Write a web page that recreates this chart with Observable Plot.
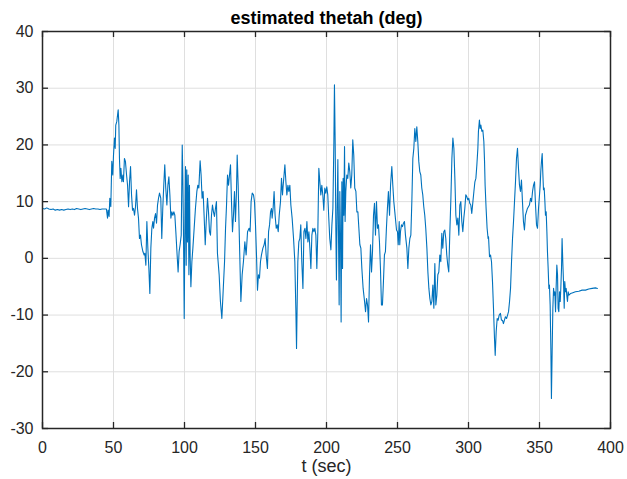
<!DOCTYPE html>
<html>
<head>
<meta charset="utf-8">
<script src="https://cdn.jsdelivr.net/npm/d3@7"></script>
<script src="https://cdn.jsdelivr.net/npm/@observablehq/plot@0.6"></script>
<style>
  html, body { margin: 0; padding: 0; background: #ffffff; }
</style>
</head>
<body>
<div id="chart"></div>
<script>
const chartTitle = "estimated thetah (deg)";
const xLabel = "t (sec)";
const xTicks = [0, 50, 100, 150, 200, 250, 300, 350, 400];
const yTicks = [-30, -20, -10, 0, 10, 20, 30, 40];

const time = [
  0, 1.5, 3, 4.5, 6, 7.5, 9, 10.5, 12, 13.5, 15, 16.5, 18, 19.5, 21, 22.5, 24, 25.5, 27, 28.5, 30, 31.5, 33, 34.5, 36, 37.5, 39, 40.5, 42, 43.5, 45,
  45.8, 46.2, 46.9, 47.4, 48.1, 48.8, 49.5, 50.0, 50.7, 51.2, 51.6, 52.3, 53.3, 53.8, 54.2, 54.7, 55.2, 55.9, 56.6, 57.0, 57.7, 58.4, 59.2, 59.9, 60.6, 61.3, 62.0, 62.7, 63.4, 64.1, 64.8, 65.5, 66.2, 66.9, 67.6, 68.3, 69.0, 69.7, 70.7, 71.6, 72.1, 72.8, 73.5, 74.2, 74.9, 75.6, 76.3, 77.0, 77.7, 78.2, 78.9, 79.6, 80.3, 81.0, 81.7, 82.4, 83.3, 84.0, 84.7, 85.4, 86.1, 86.8, 87.6, 88.3, 89.0, 89.7, 90.4, 91.1, 91.8,
  92.5, 93.2, 93.9, 94.8, 95.5, 96.2, 96.9, 97.7, 98.4, 98.8, 99.3, 99.8, 100.2, 100.7, 101.2, 101.6, 102.1, 102.6, 103.1, 103.5, 104.0, 104.5, 105.2, 105.9, 106.8, 107.7, 108.7, 109.4, 110.1, 111.0, 111.7, 112.4, 113.1, 113.8, 114.6, 115.3, 116.2, 116.9, 117.6, 118.3, 119.0, 119.7, 120.4, 121.1, 121.8, 122.5, 123.2, 124.4, 125.3, 126.3, 127.2, 128.2, 128.9, 129.6, 130.3, 131.0, 131.7, 132.4, 133.1, 133.8, 134.5, 135.2, 135.9, 136.6, 137.1, 137.8, 138.7, 139.7, 140.6, 141.5, 142.5, 143.4, 144.4,
  145.5, 146.2, 146.9, 147.7, 148.6, 149.3, 150.0, 150.7, 151.4, 152.1, 152.8, 153.5, 154.2, 155.2, 156.1, 156.8, 157.5, 158.4, 159.2, 159.9, 160.6, 161.3, 161.7, 162.4, 163.1, 163.8, 164.6, 165.3, 166.0, 166.7, 167.6, 168.3, 169.0, 169.7, 170.7, 171.4, 172.1, 172.8, 173.5, 174.2, 174.9, 175.8, 176.8, 177.7, 178.4, 178.9, 179.3, 179.8, 180.5, 181.2, 181.9, 182.6, 183.4, 184.1, 184.8, 185.5, 186.2, 186.9, 187.6, 188.3, 189.0, 189.7, 190.4, 191.1, 191.8, 192.5, 193.2, 193.9, 194.6,
  196.0, 196.7, 197.4, 198.1, 198.8, 199.5, 200.2, 200.9, 201.6, 202.3, 203.1, 203.8, 204.5, 205.2, 205.6, 206.1, 206.6, 207.0, 207.5, 208.0, 208.4, 208.9, 209.4, 209.9, 210.3, 210.8, 211.3, 211.7, 212.2, 212.7, 213.1, 213.6, 214.3, 215.0, 215.7, 216.4, 217.1, 217.8, 218.5, 219.2, 219.9, 220.7, 221.4, 222.1, 222.8, 223.5, 224.2, 224.9, 225.8, 226.8, 227.5, 228.2, 228.9, 229.6, 230.3, 231.0, 231.7, 232.4, 233.1, 233.8, 234.5, 235.2, 235.9, 236.6, 237.3, 238.0, 238.7, 239.4, 240.1, 240.8, 241.5, 242.2, 242.9, 243.6, 244.4, 245.1, 246.0, 246.7, 247.4, 248.1,
  249.3, 250.0, 250.5, 251.2, 251.6, 252.1, 252.8, 253.5, 254.2, 254.9, 255.6, 256.6, 257.3, 258.0, 258.7, 259.4, 260.1, 260.8, 261.5, 262.2, 262.9, 263.6, 264.3, 265.0, 265.7, 266.4, 267.1, 267.8, 268.5, 269.2, 269.9, 270.7, 271.4, 272.1, 272.8, 273.5, 274.2, 274.9, 275.6, 276.3, 277.0, 277.7, 278.4, 279.1, 279.8, 280.5, 281.2, 281.9, 282.6, 283.3, 284.0, 284.7, 285.4, 286.1, 286.8, 287.6, 288.3, 289.0, 289.7, 290.4, 291.1, 291.8, 292.5, 293.2, 293.9, 294.6, 295.3, 296.0, 296.7, 297.4,
  298.1, 298.8, 299.5, 300.2, 300.9, 301.6, 302.3, 303.1, 303.8, 304.5, 305.2, 305.9, 306.6, 307.0, 307.7, 308.2, 308.7, 309.4, 310.1, 310.8, 311.3, 311.7, 312.4, 313.1, 313.8, 314.1, 314.8, 315.5, 316.2, 316.9, 317.6, 318.3, 318.8, 319.5, 320.2, 320.9, 321.6, 322.5, 323.2, 323.9, 324.6, 325.3, 326.0, 326.8, 327.5, 328.2, 328.9, 329.6, 330.3, 331.0, 331.7, 332.4, 333.1, 333.8, 334.5, 335.2, 335.9, 336.6, 337.3, 338.0, 338.7, 339.4, 340.1, 340.8, 341.5, 342.2, 342.9, 343.7, 344.4, 345.1, 345.8, 346.5, 347.2, 347.9, 348.6, 349.3,
  350.5, 350.9, 351.4, 351.9, 352.3, 352.8, 353.3, 353.8, 354.2, 354.7, 355.2, 355.6, 356.1, 356.6, 357.0, 357.5, 358.0, 358.4, 358.9, 359.4, 359.9, 360.3, 360.8, 361.3, 361.7, 362.2, 362.7, 363.1, 363.6, 364.1, 364.6, 365.0, 365.5, 365.9, 366.4, 366.9, 367.4, 367.8, 368.3, 368.8, 369.2, 369.7, 370.2, 370.7, 371.8, 373.0, 375.3, 377.7, 380.0, 382.4, 384.7, 387.1, 389.4, 390.8
];

const theta = [
  8.8, 8.7, 8.9, 8.7, 8.6, 8.7, 8.5, 8.6, 8.5, 8.6, 8.5, 8.6, 8.7, 8.6, 8.7, 8.6, 8.8, 8.7, 8.6, 8.7, 8.8, 8.7, 8.6, 8.7, 8.8, 8.7, 8.7, 8.6, 8.7, 8.7, 8.7,
  7.1, 8.5, 7.4, 10.6, 9.1, 17.1, 14.7, 18.2, 21.2, 19.4, 23.5, 24.1, 26.2, 23.5, 17.6, 14.1, 15.9, 13.5, 14.7, 13.5, 17.6, 17.1, 14.7, 12.9, 9.1, 13.5, 16.2, 11.2, 8.5, 8.8, 7.6, 9.1, 12.1, 8.8, 7.1, 3.5, 4.1, 2.4, 1.2, 0.6, 0.9, -1.2, 6.5, 1.8, -1.8, -6.2, 1.8, 5.3, 6.5, 5.3, 7.1, 7.9, 6.2, 9.4, 10.6, 11.5, 10.6, 3.5, 8.8, 12.9, 16.5, 12.4, 9.4, 12.9, 14.4, 11.2, 7.1, 8.2, 7.6,
  8.2, 7.6, 4.7, 0.6, -2.4, 1.2, 2.4, 4.1, 20.0, 14.7, 4.1, -10.6, 2.9, 16.2, -1.2, 15.6, 2.9, 14.7, -2.9, 12.9, 0.0, -5.0, -0.6, 1.8, 5.3, 8.8, 11.8, 12.9, 12.4, 17.2, 14.7, 10.6, 11.8, 7.6, 2.4, 6.5, 10.6, 8.2, 4.7, 4.1, 7.6, 9.4, 8.2, 7.4, 8.8, 10.0, 0.9, -2.9, -7.6, -10.6, -5.9, -0.6, 5.3, 9.4, 14.7, 12.9, 14.7, 16.5, 10.0, 4.7, 7.6, 11.8, 6.5, 11.8, 18.2, 12.9, 2.9, -7.6, -2.9, -0.6, 2.9, 0.6, 4.7,
  5.3, 4.7, 10.0, 11.5, 11.2, 10.0, 5.9, 0.6, -5.6, -2.9, -3.5, -0.6, 0.6, 1.8, 2.4, 3.5, 0.6, -1.8, 4.7, 5.9, 8.2, 8.8, 7.1, 8.8, 11.8, 7.6, 5.3, 5.9, 4.7, 7.6, 10.0, 14.1, 11.2, 13.5, 16.5, 13.5, 11.2, 12.9, 11.8, 12.9, 9.4, 7.1, 3.5, -0.6, -8.8, -15.9, -8.8, -0.6, 2.9, 3.5, 5.9, -0.6, -5.3, 4.7, 5.3, 3.5, 6.5, 2.9, 4.7, 1.8, -1.8, 4.1, 5.3, 4.7, 5.3, 4.1, -1.8, 4.7, 15.9,
  11.2, 12.9, 11.2, 8.5, 12.4, 11.5, 12.6, 11.2, 7.1, 3.5, 1.5, 5.9, 8.8, 20.6, 30.6, 20.6, 4.7, -3.8, 8.8, 17.4, 5.9, -8.2, 11.8, 2.9, -11.2, 13.5, -1.8, 14.1, 7.6, 19.7, 6.5, 11.8, 14.7, 14.1, 16.8, 15.3, 12.4, 14.7, 20.9, 18.2, 12.4, 11.8, 8.2, 8.2, 5.3, 2.4, 1.8, -1.8, -5.3, -7.6, -9.4, -7.1, -8.2, -11.2, -2.9, 2.4, -2.4, 1.2, 7.6, 9.7, 4.1, 10.0, 5.3, 5.9, 2.9, -1.8, -8.2, -8.2, -4.1, 0.6, 1.2, 5.3, 8.8, 11.8, 7.6, 12.9, 16.2, 12.9, 10.0, 8.2,
  5.0, 4.7, 2.4, 6.5, 2.4, 4.7, 5.9, 5.6, 6.2, 6.5, 4.1, 1.8, -1.8, 1.8, 3.5, 4.1, 10.0, 17.6, 19.4, 22.9, 20.6, 23.2, 20.6, 17.1, 15.3, 14.7, 12.4, 11.2, 9.1, 7.6, 5.3, 1.8, -2.4, -5.3, -7.1, -8.2, -7.6, -4.7, -8.8, -0.9, -8.2, -6.5, -2.9, -2.4, 0.6, -0.6, 4.4, 1.8, 4.7, 5.0, 3.5, 0.6, -1.2, -2.4, 4.1, 10.6, 17.6, 21.2, 19.4, 14.1, 7.6, 5.9, 7.1, 4.1, 9.4, 10.0, 6.5, 4.7, 7.1, 8.8,
  11.2, 10.9, 10.3, 10.6, 9.7, 9.4, 7.9, 10.0, 11.8, 13.5, 14.1, 16.5, 19.4, 22.4, 24.4, 22.9, 23.5, 22.4, 22.6, 20.6, 17.1, 12.9, 8.8, 5.3, 3.5, 3.8, 0.3, 0.6, -0.6, -4.1, -8.8, -14.1, -17.1, -12.9, -10.6, -10.9, -10.0, -9.7, -10.9, -10.9, -11.5, -10.9, -10.3, -10.6, -10.0, -9.4, -7.6, -5.3, -0.6, 3.5, 6.5, 10.0, 13.5, 17.6, 19.4, 15.9, 12.9, 11.8, 13.8, 10.0, 6.5, 5.0, 7.6, 8.2, 8.8, 9.1, 9.4, 10.6, 10.0, 11.8, 12.9, 13.5, 9.4, 5.9, 5.3, 8.8,
  12.9, 15.3, 17.1, 18.5, 15.3, 12.1, 12.4, 10.0, 7.6, 8.2, 4.7, 1.2, -1.8, -5.3, -4.7, -8.2, -15.9, -24.7, -16.5, -8.8, -5.3, -6.5, -5.9, -9.4, -5.3, -1.2, -2.9, -8.8, -9.4, -5.9, -7.6, -5.3, -1.8, 3.5, -0.6, -4.1, -8.8, -4.1, -5.9, -5.3, -6.5, -7.6, -5.9, -6.5, -6.2, -6.1, -5.9, -5.8, -5.6, -5.6, -5.4, -5.3, -5.2, -5.3
];

const data = time.map((t, i) => ({t, v: theta[i]}));

const W = 627, H = 479;
const mL = 42, mR = 17, mT = 31, mB = 51;
const frameW = W - mL - mR, frameH = H - mT - mB;
const tickLen = 6;
const axisColor = "#262626";
const gridColor = "#dfdfdf";
const fontFam = "'Liberation Sans', Arial, Helvetica, sans-serif";

const chart = Plot.plot({
  width: W,
  height: H,
  marginLeft: mL,
  marginRight: mR,
  marginTop: mT,
  marginBottom: mB,
  style: {fontFamily: fontFam, fontSize: "16px", color: axisColor, background: "#ffffff", overflow: "visible"},
  x: {domain: [0, 400]},
  y: {domain: [-30, 40]},
  marks: [
    Plot.gridX(xTicks, {stroke: gridColor, strokeOpacity: 1, strokeWidth: 1}),
    Plot.gridY(yTicks, {stroke: gridColor, strokeOpacity: 1, strokeWidth: 1}),
    Plot.line(data, {x: "t", y: "v", stroke: "#0072BD", strokeWidth: 1.1}),
    Plot.tickX(xTicks, {x: d => d, insetTop: frameH - tickLen, stroke: axisColor, strokeWidth: 1.3}),
    Plot.tickX(xTicks, {x: d => d, insetBottom: frameH - tickLen, stroke: axisColor, strokeWidth: 1.3}),
    Plot.tickY(yTicks, {y: d => d, insetRight: frameW - tickLen, stroke: axisColor, strokeWidth: 1.3}),
    Plot.tickY(yTicks, {y: d => d, insetLeft: frameW - tickLen, stroke: axisColor, strokeWidth: 1.3}),
    Plot.frame({stroke: axisColor, strokeWidth: 1.5}),
    Plot.axisX(xTicks, {tickSize: 0, tickPadding: 13, label: null, tickFormat: d => String(d), fill: axisColor}),
    Plot.axisY(yTicks, {tickSize: 0, tickPadding: 9, label: null, tickFormat: d => String(d), fill: axisColor}),
    Plot.text([chartTitle], {text: d => d, frameAnchor: "top", lineAnchor: "middle", dy: -13, fontSize: 18, fontWeight: "bold", fill: "#000000"}),
    Plot.text([xLabel], {text: d => d, frameAnchor: "bottom", lineAnchor: "middle", dy: 38, fontSize: 18, fill: axisColor})
  ]
});

document.getElementById("chart").appendChild(chart);
</script>
</body>
</html>
